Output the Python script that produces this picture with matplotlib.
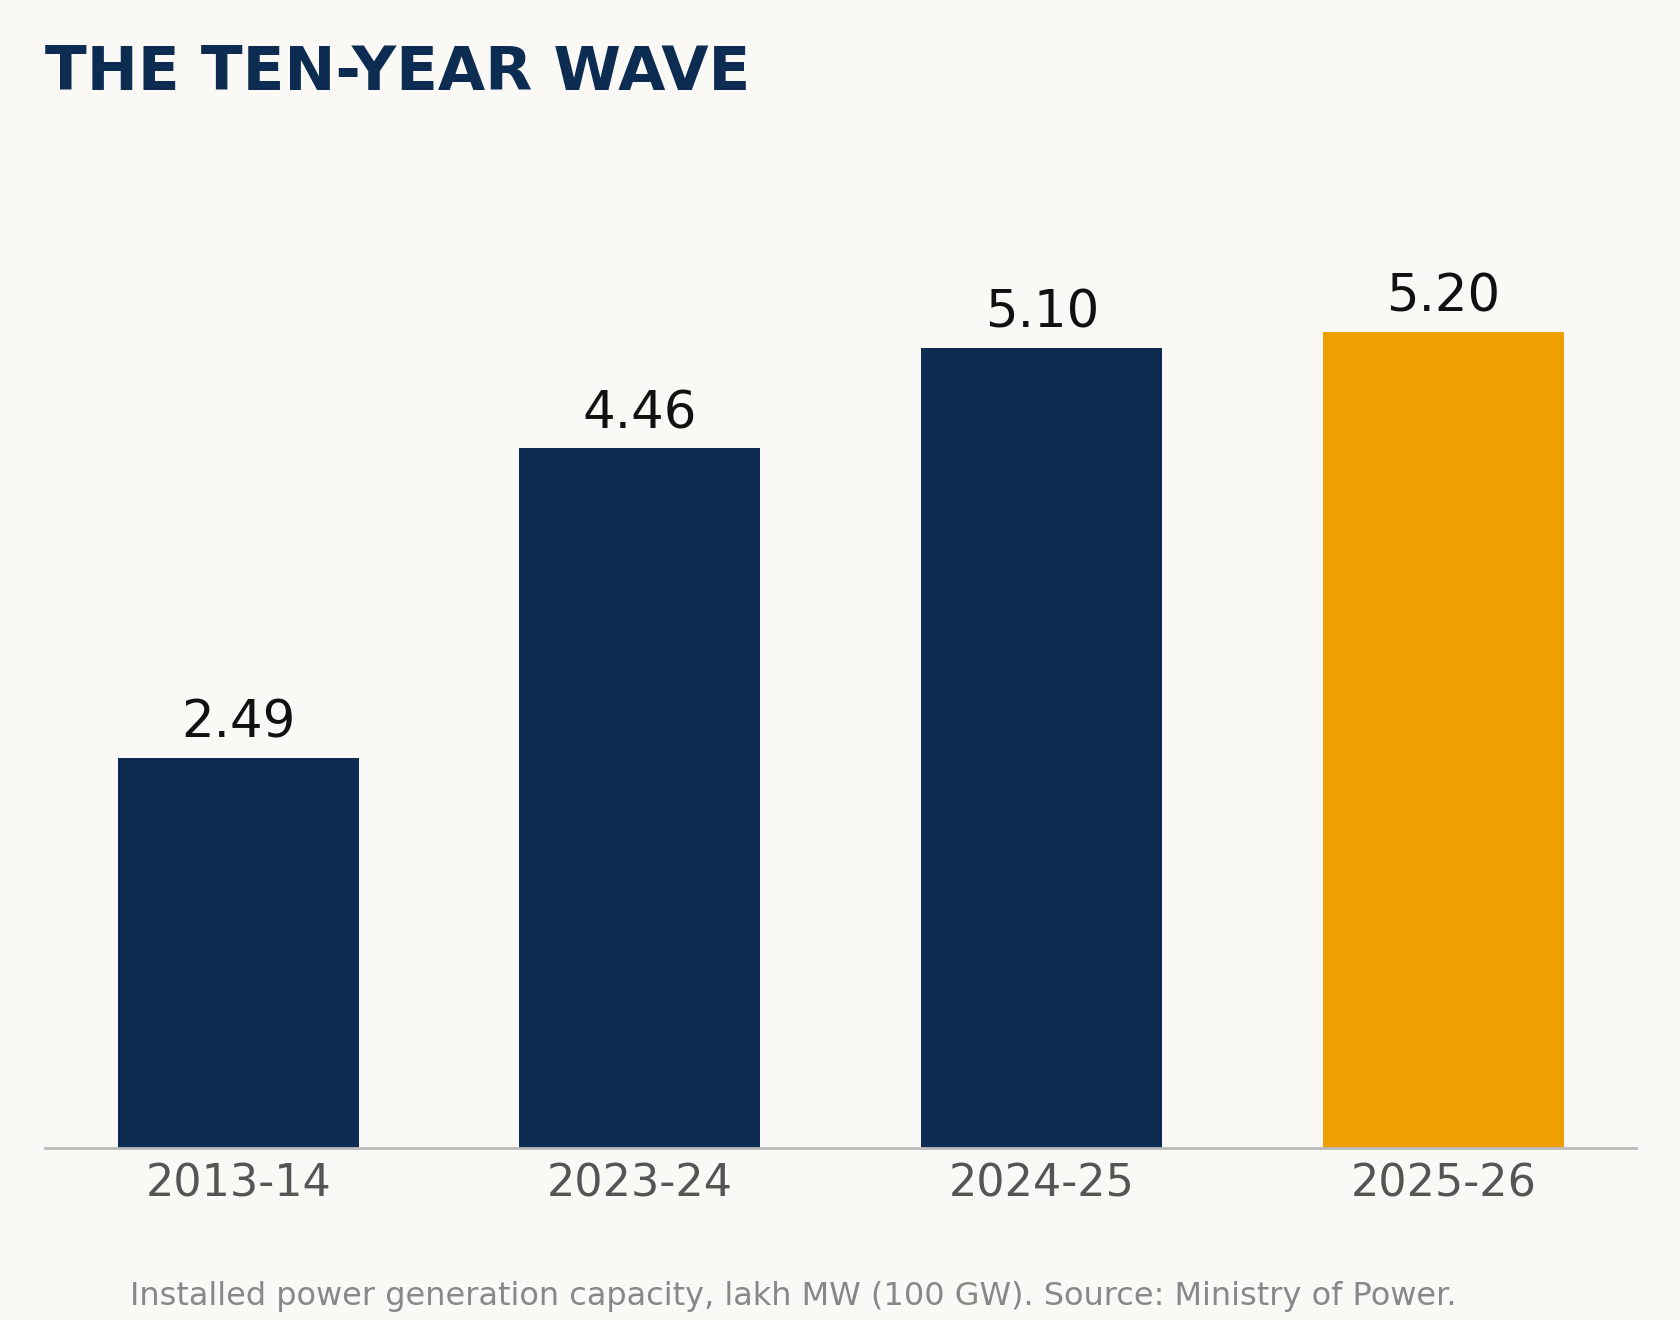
import matplotlib
matplotlib.use("Agg")
import matplotlib.pyplot as plt

# data
years = ["2013-14", "2023-24", "2024-25", "2025-26"]
capacity = [2.49, 4.46, 5.10, 5.20]
colors = ["#0c2c52", "#0c2c52", "#0c2c52", "#eea000"]

bg = "#faf9f6"
fig = plt.figure(figsize=(16.8, 13.2), dpi=100, facecolor=bg)
ax = fig.add_axes([0.027, 0.130, 0.947, 0.711], facecolor=bg)

x = range(len(years))
ax.bar(x, capacity, width=0.6, color=colors)
for xi, v in zip(x, capacity):
    ax.text(xi, v + 0.06, f"{v:.2f}", ha="center", va="bottom",
            fontsize=37, color="#111111")

ax.set_xlim(-0.48, 3.48)
ax.set_ylim(0, 5.98)
ax.set_xticks(list(x))
ax.set_xticklabels(years, fontsize=32, color="#555555")
ax.tick_params(axis="x", length=0, pad=10)
ax.set_yticks([])
for s in ["top", "right", "left"]:
    ax.spines[s].set_visible(False)
ax.spines["bottom"].set_color("#bbbbbb")
ax.spines["bottom"].set_linewidth(2)

fig.text(0.027, 0.967, "THE TEN-YEAR WAVE", fontsize=44, fontweight="bold",
         color="#0c2c52", ha="left", va="top")
fig.text(0.472, 0.018,
         "Installed power generation capacity, lakh MW (100 GW). Source: Ministry of Power.",
         fontsize=23, color="#888888", ha="center", va="center")

fig.savefig("out.png", dpi=100, facecolor=bg)
